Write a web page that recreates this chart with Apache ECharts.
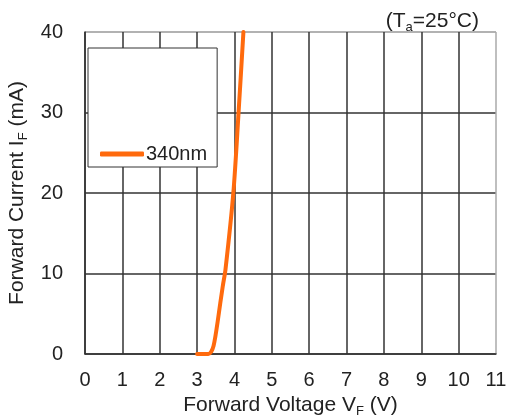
<!DOCTYPE html>
<html>
<head>
<meta charset="utf-8">
<script src="https://cdn.jsdelivr.net/npm/echarts@6/dist/echarts.min.js"></script>
<style>html,body{margin:0;padding:0;background:#fff}#c{width:506px;height:416px}</style>
</head>
<body>
<div id="c"></div>
<script>
var seriesName = '340nm';
var voltage = [3.0, 3.3, 3.38, 3.44, 3.49, 3.55, 3.62, 3.69, 3.76, 3.97, 4.11, 4.24];
var current = [0, 0, 0.3, 1.0, 2.2, 4.0, 6.3, 8.5, 10.5, 20, 30, 40];
var xTicks = [0,1,2,3,4,5,6,7,8,9,10,11];
var yTicks = [0,10,20,30,40];

var FONT = '"Liberation Sans", Arial, sans-serif';
var TXT = '#222';
var chart = echarts.init(document.getElementById('c'), null, {renderer:'canvas'});
var pts = voltage.map(function(v,i){return [v, current[i]];});
var xLineColors = xTicks.map(function(t,i){return i===xTicks.length-1 ? '#aaa' : '#333';});
var yLineColors = yTicks.map(function(t,i){return i===yTicks.length-1 ? '#999' : '#333';});
var subRich = {s:{fontSize:13, fontFamily:FONT, color:TXT, verticalAlign:'bottom', padding:[0,0,-2,0]}};
chart.setOption({
  animation:false,
  backgroundColor:'#fff',
  title:{
    text:'(T{s|a}=25°C)',
    right:22, top:6,
    textStyle:{fontFamily:FONT, fontSize:21, fontWeight:'normal', color:TXT, rich:subRich}
  },
  grid:{left:85, right:10, top:32, bottom:62, containLabel:false, outerBoundsMode:'none'},
  legend:{
    left:88, top:48,
    padding:[96,10,3,12],
    backgroundColor:'#fff', borderColor:'#333', borderWidth:1, borderRadius:0,
    icon:'roundRect', itemWidth:44, itemHeight:5,
    textStyle:{fontFamily:FONT, fontSize:20, color:TXT, padding:[0,0,0,-3]},
    data:[seriesName]
  },
  xAxis:{
    type:'value', min:xTicks[0], max:xTicks[xTicks.length-1], interval:1,
    name:'Forward Voltage V{s|F} (V)', nameLocation:'middle', nameGap:36,
    nameTextStyle:{fontFamily:FONT, fontSize:21, color:TXT, rich:subRich},
    axisLine:{show:true, lineStyle:{color:'#333', width:1.5}},
    axisTick:{show:false},
    axisLabel:{fontFamily:FONT, fontSize:20, color:TXT, margin:16},
    splitLine:{show:true, lineStyle:{color:xLineColors, width:1.5}}
  },
  yAxis:{
    type:'value', min:yTicks[0], max:yTicks[yTicks.length-1], interval:10,
    name:'Forward Current I{s|F} (mA)', nameLocation:'middle', nameGap:48,
    nameTextStyle:{fontFamily:FONT, fontSize:21, color:TXT, rich:subRich},
    axisLine:{show:true, lineStyle:{color:'#333', width:1.5}},
    axisTick:{show:false},
    axisLabel:{fontFamily:FONT, fontSize:20, color:TXT, margin:22},
    splitLine:{show:true, lineStyle:{color:yLineColors, width:1.5}}
  },
  series:[{
    name:seriesName, type:'line', data:pts, smooth:0.3, showSymbol:false,
    clip:true,
    lineStyle:{color:'#ff6a0d', width:4, cap:'round'},
    itemStyle:{color:'#ff6a0d'}
  }]
});
</script>
</body>
</html>
